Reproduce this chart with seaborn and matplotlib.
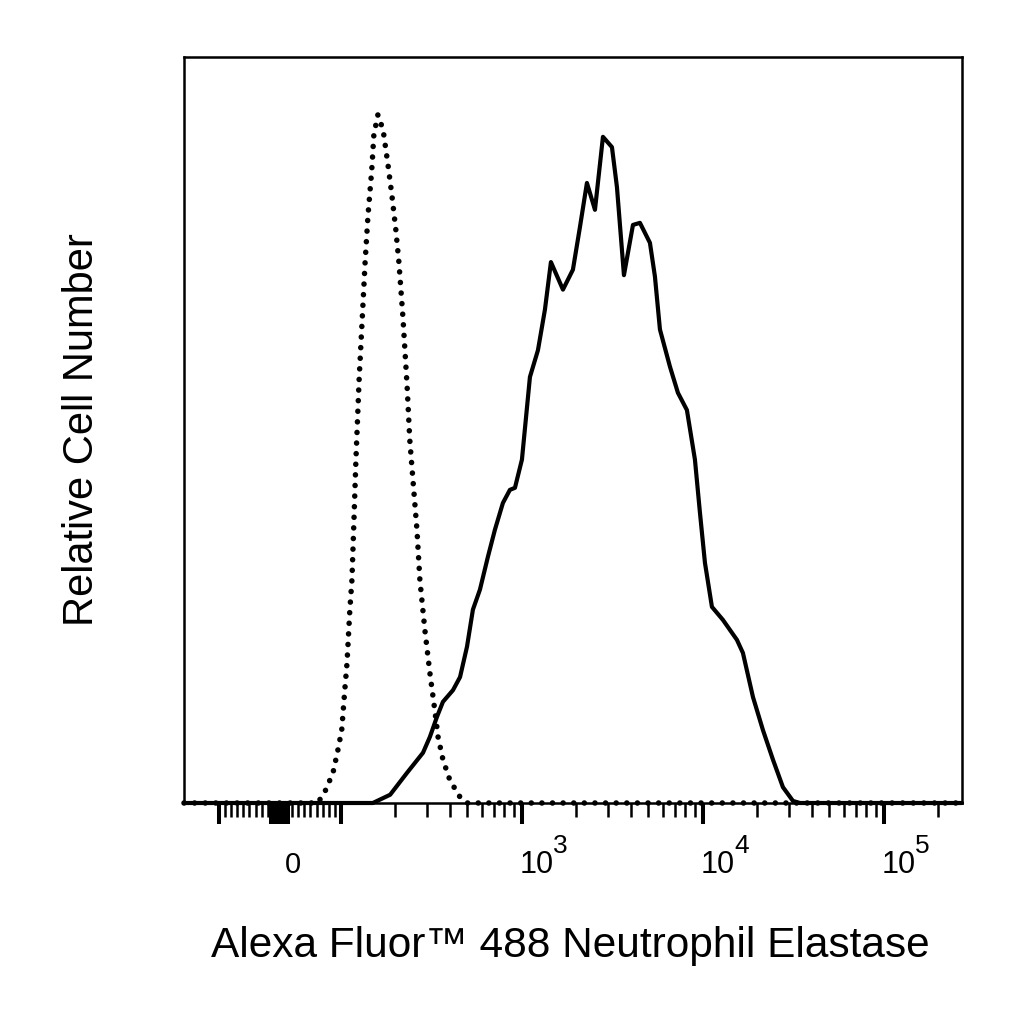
import numpy as np
import pandas as pd
import matplotlib
matplotlib.use("Agg")
import matplotlib.pyplot as plt
import matplotlib.transforms as mtransforms
import seaborn as sns

# ---- data (fluorescence value, relative count, peak = 100) ----
control_x = [-156, 62, 74, 87, 95, 101, 105, 108, 112, 115, 118, 121, 126, 131, 136, 141,
             148, 152, 160, 171, 182, 191, 201, 209, 220, 232, 240, 250, 263, 273, 291,
             310, 330, 344, 366, 400, 454, 497, 270000]
control_y = [0, 0, 1.7, 4.4, 7.7, 10.6, 16.4, 20.3, 28.1, 32.4, 41.1, 49.9, 61.5, 70.2, 78.6, 85.3,
             92.0, 97.1, 100, 97.8, 92.7, 88.4, 83.3, 78.6, 70.6, 60.6, 52.8, 46.9, 39.7, 32.4, 25.1,
             18.9, 13.5, 9.6, 6.3, 3.3, 0.9, 0, 0]

stained_x = [-156, 123, 150, 187, 232, 284, 310, 339, 366, 416, 455, 497, 536, 586, 649, 709,
             785, 858, 915, 1000, 1107, 1226, 1340, 1446, 1685, 1913, 2092, 2286, 2532, 2803,
             3143, 3349, 3661, 4106, 4487, 5095, 5430, 5788, 6574, 7276, 8156, 9032, 9626,
             10260, 11212, 12900, 15415, 16634, 18898, 21455, 24370, 27670, 31430, 34350, 270000]
stained_y = [0, 0, 0, 1.2, 4.4, 7.3, 9.6, 12.5, 14.7, 16.4, 18.3, 22.7, 28.1, 31.0, 35.8, 39.7,
             43.6, 45.5, 45.8, 49.9, 61.9, 65.8, 71.7, 78.6, 74.6, 77.5, 83.7, 90.1, 86.2, 96.8,
             95.3, 89.5, 76.7, 84.0, 84.3, 81.4, 76.5, 68.8, 63.4, 59.6, 57.1, 49.9, 42.2,
             34.9, 28.5, 26.6, 23.7, 21.8, 15.4, 10.6, 6.3, 2.3, 0.3, 0, 0]

major_ticks = [-100, 0, 100, 1000, 10000, 100000]
decade_ticks = [1000, 10000, 100000]
decade_exps = ["3", "4", "5"]
zero_block = list(range(-14, 15, 2))
minor_ticks = ([-90, -80, -70, -60, -50, -40, -30, -20, -10, 10, 20, 30, 40, 50, 60, 70, 80, 90]
               + [200, 300, 400, 500, 600, 700, 800, 900]
               + [2000, 3000, 4000, 5000, 6000, 7000, 8000, 9000]
               + [20000, 30000, 40000, 50000, 60000, 70000, 80000, 90000, 200000])

x_min, x_max = -156, 270000
y_max = 108.4

# ---- biexponential-ish display: linear within +-100, log outside ----
LIN = 100.0
S = 0.337


def fwd(x):
    x = np.asarray(x, dtype=float)
    a = np.abs(x)
    with np.errstate(divide="ignore", invalid="ignore"):
        out = np.where(a <= LIN, x / LIN * S,
                       np.sign(x) * (S + np.log10(np.maximum(a, 1e-300) / LIN)))
    return out


def inv(y):
    y = np.asarray(y, dtype=float)
    a = np.abs(y)
    with np.errstate(over="ignore"):
        out = np.where(a <= S, y / S * LIN, np.sign(y) * LIN * 10 ** (np.minimum(a, 20) - S))
    return out


sns.set_style("white")
plt.rcParams["font.family"] = ["Liberation Sans", "DejaVu Sans"]

fig = plt.figure(figsize=(10.24, 10.24), dpi=100)
ax = fig.add_axes([184 / 1024, 221 / 1024, 778 / 1024, 746 / 1024])
ax.set_xscale("function", functions=(fwd, inv))

control = pd.DataFrame({"x": control_x, "y": control_y})
stained = pd.DataFrame({"x": stained_x, "y": stained_y})

sns.lineplot(data=stained, x="x", y="y", ax=ax, color="black", linewidth=3.0,
             estimator=None, sort=False, clip_on=False, zorder=4)
ax.lines[-1].set_solid_joinstyle("round")
sns.lineplot(data=control, x="x", y="y", ax=ax, color="black", linewidth=4.0,
             estimator=None, sort=False, clip_on=False, zorder=5)
ax.lines[-1].set_linestyle((0, (0.01, 1.9)))
ax.lines[-1].set_dash_capstyle("round")

ax.set_xlim(x_min, x_max)
ax.set_ylim(0, y_max)

for side in ["top", "bottom", "left", "right"]:
    ax.spines[side].set_color("black")
    ax.spines[side].set_linewidth(1.8)

ax.set_yticks([])
ax.set_xticks(major_ticks + zero_block)
ax.set_xticklabels([])
ax.set_xticks(minor_ticks, minor=True)
ax.tick_params(axis="x", which="major", direction="out", length=15, width=2.9,
               color="black", bottom=True)
ax.tick_params(axis="x", which="minor", direction="out", length=10, width=1.8,
               color="black", bottom=True)

# tick labels: "0" and 10 with a raised exponent, sharing one baseline
base = ax.get_xaxis_transform()
label_y = -0.094
ax.text(0, label_y, "0", transform=mtransforms.offset_copy(base, fig, x=5, y=0, units="dots"),
        ha="left", va="baseline", fontsize=21, color="black")
for val, ex in zip(decade_ticks, decade_exps):
    ax.text(val, label_y, "10", transform=mtransforms.offset_copy(base, fig, x=-2, y=0, units="dots"),
            ha="left", va="baseline", fontsize=22, color="black")
    ax.text(val, label_y, ex, transform=mtransforms.offset_copy(base, fig, x=31, y=20, units="dots"),
            ha="left", va="baseline", fontsize=19, color="black")

ax.set_xlabel("Alexa Fluor™ 488 Neutrophil Elastase", fontsize=30.5, color="black")
ax.set_ylabel("Relative Cell Number", fontsize=30, color="black")
ax.xaxis.set_label_coords(0.496, -0.165)
ax.yaxis.set_label_coords(-0.105, 0.5)

fig.savefig("out.png", dpi=100, facecolor="white")
